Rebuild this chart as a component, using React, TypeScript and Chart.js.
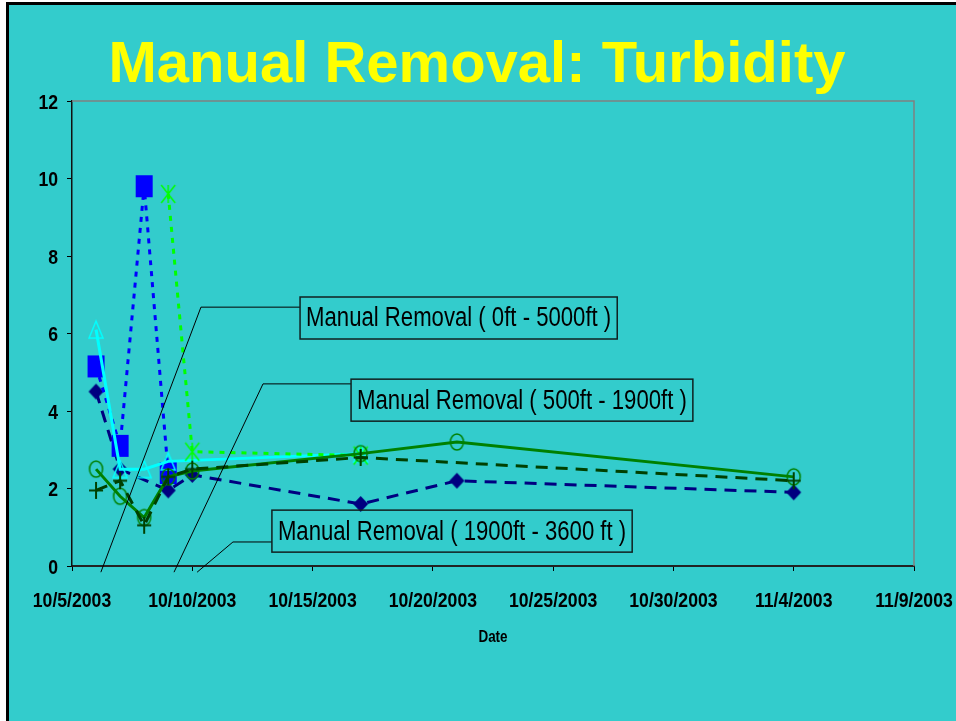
import React, { useEffect, useRef } from 'react';
import { Chart, registerables } from 'chart.js';

Chart.register(...registerables);

// ---------- data ----------
const titleText = 'Manual Removal: Turbidity';
const xAxisTitle = 'Date';
const xStart = '10/5/2003';
const xEnd = '11/9/2003';
const xStepDays = 5;
const yMin = 0;
const yMax = 12;
const yStep = 2;

const navyDates = ['10/6/2003', '10/7/2003', '10/9/2003', '10/10/2003', '10/17/2003', '10/21/2003', '11/4/2003'];
const navyValues = [4.5, 2.5, 1.95, 2.35, 1.6, 2.2, 1.9];

const blueDates = ['10/6/2003', '10/7/2003', '10/8/2003', '10/9/2003'];
const blueValues = [5.15, 3.1, 9.8, 2.4];

const cyanDates = ['10/6/2003', '10/7/2003', '10/8/2003', '10/9/2003', '10/17/2003'];
const cyanValues = [6.1, 2.5, 2.5, 2.7, 2.9];

const limeDates = ['10/9/2003', '10/10/2003', '10/17/2003'];
const limeValues = [9.6, 2.95, 2.85];

const greenDates = ['10/6/2003', '10/7/2003', '10/8/2003', '10/9/2003', '10/10/2003', '10/17/2003', '10/21/2003', '11/4/2003'];
const greenValues = [2.5, 1.8, 1.25, 2.3, 2.45, 2.9, 3.2, 2.3];

const darkDates = ['10/6/2003', '10/7/2003', '10/8/2003', '10/9/2003', '10/10/2003', '10/17/2003', '11/4/2003'];
const darkValues = [1.95, 2.2, 1.05, 2.3, 2.5, 2.8, 2.2];

const calloutTexts = [
  'Manual Removal ( 0ft - 5000ft )',
  'Manual Removal ( 500ft - 1900ft )',
  'Manual Removal ( 1900ft - 3600 ft )',
];

// callout placement in data space (days from start, value)
const calloutPlacement = [
  { boxDay: 9.48, boxVal: 6.4, elbowDay: 5.36, elbowVal: 6.68, tailDay: 1.2, tailVal: -0.16 },
  { boxDay: 11.6, boxVal: 4.28, elbowDay: 7.94, elbowVal: 4.7, tailDay: 4.24, tailVal: -0.16 },
  { boxDay: 8.31, boxVal: 0.9, elbowDay: 6.69, elbowVal: 0.62, tailDay: 5.2, tailVal: -0.16 },
];

// ---------- helpers ----------
const DAY = 86400000;
function dayNum(s: string) {
  const [m, d, y] = s.split('/').map(Number);
  return Math.round(Date.UTC(y, m - 1, d) / DAY);
}
const startDay = dayNum(xStart);
function dayLabel(offset: number) {
  const dt = new Date((startDay + Math.round(offset)) * DAY);
  return `${dt.getUTCMonth() + 1}/${dt.getUTCDate()}/${dt.getUTCFullYear()}`;
}
function pts(dates: string[], vals: number[]) {
  return dates.map((d, i) => ({ x: dayNum(d) - startDay, y: vals[i] }));
}

function marker(kind: string, color: string, w: number, h: number, lw = 1.5) {
  const pad = 2;
  const c = document.createElement('canvas');
  c.width = w + pad * 2;
  c.height = h + pad * 2;
  const g = c.getContext('2d')!;
  const cx = c.width / 2;
  const cy = c.height / 2;
  g.strokeStyle = color;
  g.fillStyle = color;
  g.lineWidth = lw;
  g.beginPath();
  switch (kind) {
    case 'diamond':
      g.moveTo(cx, cy - h / 2);
      g.lineTo(cx + w / 2, cy);
      g.lineTo(cx, cy + h / 2);
      g.lineTo(cx - w / 2, cy);
      g.closePath();
      g.fill();
      break;
    case 'square':
      g.fillRect(cx - w / 2, cy - h / 2, w, h);
      break;
    case 'triangle':
      g.moveTo(cx, cy - h / 2);
      g.lineTo(cx + w / 2, cy + h / 2);
      g.lineTo(cx - w / 2, cy + h / 2);
      g.closePath();
      g.stroke();
      break;
    case 'circle':
      g.ellipse(cx, cy, w / 2, h / 2, 0, 0, Math.PI * 2);
      g.stroke();
      break;
    case 'asterisk':
      g.moveTo(cx, cy - h / 2);
      g.lineTo(cx, cy + h / 2);
      g.moveTo(cx - w / 2, cy - h / 2);
      g.lineTo(cx + w / 2, cy + h / 2);
      g.moveTo(cx + w / 2, cy - h / 2);
      g.lineTo(cx - w / 2, cy + h / 2);
      g.stroke();
      break;
    case 'plus':
      g.moveTo(cx, cy - h / 2);
      g.lineTo(cx, cy + h / 2);
      g.moveTo(cx - w / 2, cy);
      g.lineTo(cx + w / 2, cy);
      g.stroke();
      break;
  }
  return c;
}

const SANS = '"Liberation Sans", Arial, sans-serif';
const CONDENSE = 0.84;

function condensedText(ctx: any, text: string, x: number, y: number, sx: number) {
  ctx.save();
  ctx.translate(x, y);
  ctx.scale(sx, 1);
  ctx.fillText(text, 0, 0);
  ctx.restore();
}

const overlayPlugin = {
  id: 'overlay',
  afterDraw(chart: any) {
    const { ctx, chartArea: ca, scales } = chart;
    const xs = scales.x;
    const ys = scales.y;
    ctx.save();
    // plot frame top / right
    ctx.strokeStyle = '#808080';
    ctx.lineWidth = 1.5;
    ctx.beginPath();
    ctx.moveTo(ca.left, ca.top);
    ctx.lineTo(ca.right, ca.top);
    ctx.lineTo(ca.right, ca.bottom);
    ctx.stroke();

    // title
    ctx.fillStyle = '#FFFF00';
    ctx.font = `bold 58px ${SANS}`;
    ctx.textAlign = 'center';
    ctx.textBaseline = 'alphabetic';
    ctx.fillText(titleText, 477, 82);

    // tick labels (condensed bold, like Arial Narrow)
    ctx.fillStyle = '#000';
    ctx.font = `bold 21px ${SANS}`;
    ctx.textBaseline = 'middle';
    ctx.textAlign = 'right';
    ys.ticks.forEach((t: any) => {
      condensedText(ctx, String(t.value), ca.left - 14, ys.getPixelForValue(t.value) + 2, CONDENSE);
    });
    ctx.textAlign = 'center';
    xs.ticks.forEach((t: any) => {
      condensedText(ctx, dayLabel(t.value), xs.getPixelForValue(t.value), ca.bottom + 35, CONDENSE);
    });

    // axis title
    ctx.font = `bold 16px ${SANS}`;
    condensedText(ctx, xAxisTitle, (ca.left + ca.right) / 2, ca.bottom + 72, CONDENSE);

    // callouts
    ctx.font = `27px ${SANS}`;
    ctx.textAlign = 'left';
    ctx.textBaseline = 'middle';
    calloutTexts.forEach((t, i) => {
      const p = calloutPlacement[i];
      const bx = xs.getPixelForValue(p.boxDay);
      const by = ys.getPixelForValue(p.boxVal);
      const ex = xs.getPixelForValue(p.elbowDay);
      const ey = ys.getPixelForValue(p.elbowVal);
      const tx = xs.getPixelForValue(p.tailDay);
      const ty = ys.getPixelForValue(p.tailVal);
      const tw = ctx.measureText(t).width * 0.82;
      const bw = tw + 12;
      const bh = 42;
      ctx.strokeStyle = '#000';
      ctx.lineWidth = 1;
      ctx.beginPath();
      ctx.moveTo(bx, ey);
      ctx.lineTo(ex, ey);
      ctx.lineTo(tx, ty);
      ctx.stroke();
      ctx.lineWidth = 1.5;
      ctx.strokeStyle = '#102020';
      ctx.strokeRect(bx, by - bh / 2, bw, bh);
      ctx.fillStyle = '#000';
      condensedText(ctx, t, bx + 6, by + 1, 0.82);
    });
    ctx.restore();
  },
};

export default function App() {
  const ref = useRef<HTMLCanvasElement>(null);
  useEffect(() => {
    const navyM = marker('diamond', '#000080', 15, 16);
    const blueM = marker('square', '#0000FF', 17, 22);
    const cyanM = marker('triangle', '#00FFFF', 14, 17, 1.5);
    const limeM = marker('asterisk', '#00FF00', 14, 18, 1.5);
    const greenM = marker('circle', '#008000', 13, 16, 1.5);
    const darkM = marker('plus', '#004000', 14, 17, 2);

    const ds = (data: any, color: string, dash: number[], pm: any, order: number) => ({
      data,
      borderColor: color,
      backgroundColor: color,
      borderWidth: 3,
      borderDash: dash,
      pointStyle: pm,
      pointRadius: 8,
      tension: 0,
      fill: false,
      order,
    });

    const chart = new Chart(ref.current!, {
      type: 'line',
      data: {
        datasets: [
          ds(pts(navyDates, navyValues), '#000080', [12, 8], navyM, 6),
          ds(pts(blueDates, blueValues), '#0000FF', [5, 6], blueM, 5),
          ds(pts(cyanDates, cyanValues), '#00FFFF', [], cyanM, 4),
          ds(pts(limeDates, limeValues), '#00FF00', [5, 6], limeM, 3),
          ds(pts(greenDates, greenValues), '#008000', [], greenM, 2),
          ds(pts(darkDates, darkValues), '#004000', [12, 8], darkM, 1),
        ] as any,
      },
      options: {
        responsive: false,
        maintainAspectRatio: false,
        devicePixelRatio: 1,
        animation: false,
        layout: { padding: { left: 0, top: 101, right: 42, bottom: 0 } },
        plugins: { legend: { display: false }, tooltip: { enabled: false }, title: { display: false } },
        scales: {
          x: {
            type: 'linear',
            min: 0,
            max: dayNum(xEnd) - startDay,
            afterFit: (s: any) => {
              s.height = 155;
              s.paddingLeft = 0;
              s.paddingRight = 0;
            },
            ticks: {
              display: false,
              stepSize: xStepDays,
              autoSkip: false,
              maxRotation: 0,
              minRotation: 0,
            },
            grid: { display: true, drawOnChartArea: false, drawTicks: true, tickLength: 5, color: '#000', lineWidth: 1 },
            border: { display: true, color: '#222', width: 2 },
          },
          y: {
            min: yMin,
            max: yMax,
            afterFit: (s: any) => {
              s.width = 72;
              s.paddingTop = 0;
              s.paddingBottom = 0;
            },
            ticks: { display: false, stepSize: yStep },
            grid: { display: true, drawOnChartArea: false, drawTicks: true, tickLength: 5, color: '#000', lineWidth: 1 },
            border: { display: true, color: '#111', width: 1.5 },
          },
        },
      } as any,
      plugins: [overlayPlugin],
    });
    return () => chart.destroy();
  }, []);

  return (
    <div style={{ position: 'fixed', left: 0, top: 0, width: 956, height: 721, background: '#fff', overflow: 'hidden' }}>
      <div
        style={{
          position: 'absolute',
          left: 6,
          top: 2,
          width: 970,
          height: 740,
          border: '3px solid #000',
          background: '#33CCCC',
        }}
      />
      <canvas
        ref={ref}
        width={956}
        height={721}
        style={{ position: 'absolute', left: 0, top: 0, width: 956, height: 721 }}
      />
    </div>
  );
}
